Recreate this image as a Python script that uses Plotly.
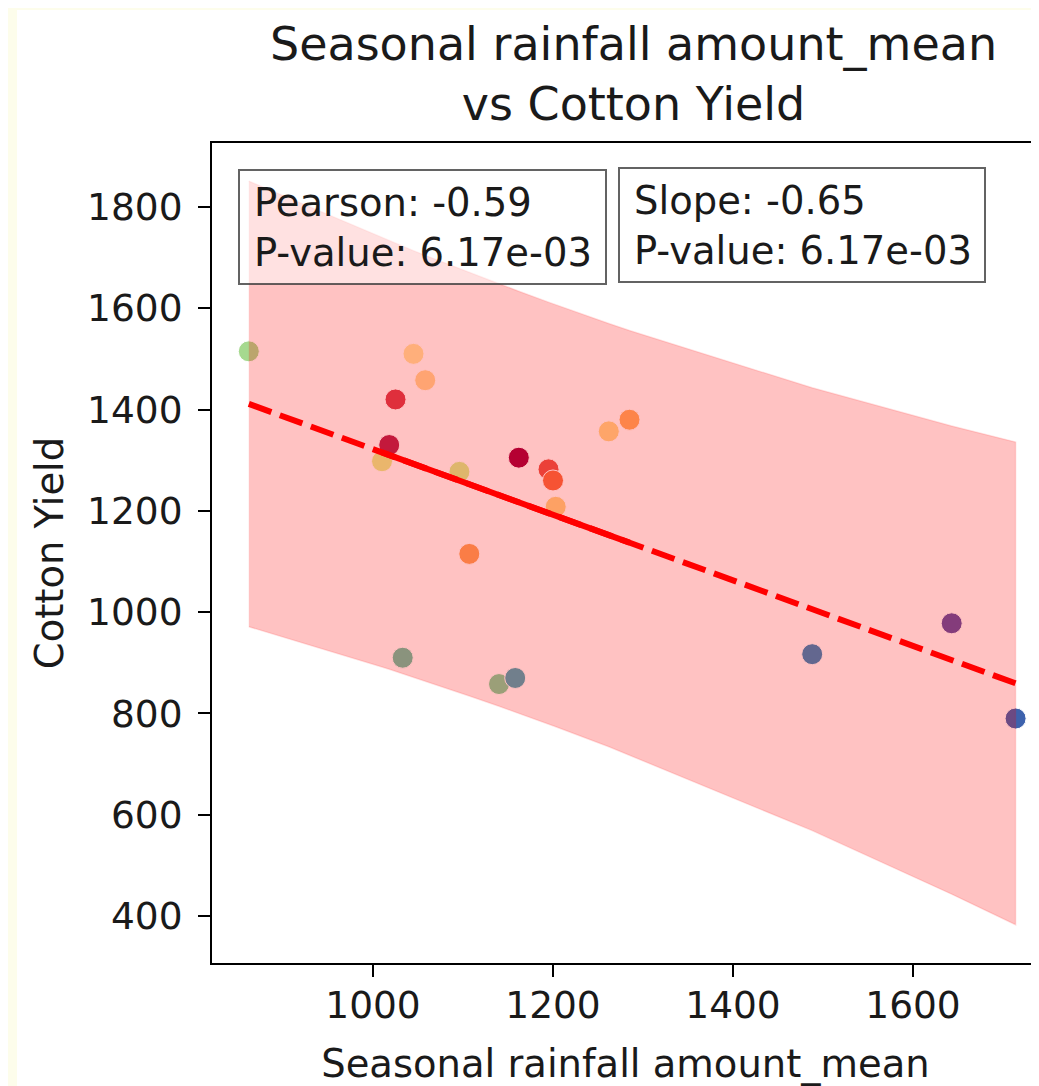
import numpy as np
import plotly.graph_objects as go

# ---- data ----
rainfall = [862, 1045, 1058, 1025, 1018, 1010, 1096, 1162, 1195, 1200,
            1203, 1262, 1285, 1107, 1033, 1140, 1158, 1488, 1643, 1714]
yield_ = [1515, 1510, 1458, 1420, 1330, 1298, 1277, 1305, 1282, 1260,
          1208, 1357, 1380, 1115, 910, 858, 870, 917, 978, 790]
point_colors = ['#a6d98f', '#ffe7a2', '#ffd896', '#d53e4f', '#b0214f',
                '#e4f08f', '#d4f08e', '#9e0142', '#e5554a', '#f46d43',
                '#fdd484', '#fed98a', '#fdae61', '#f9a55c', '#66c2a5',
                '#7cd29e', '#45a8b8', '#3288bd', '#5e4fa2', '#3d62ad']
pearson_text = "Pearson: -0.59<br>P-value: 6.17e-03"
slope_text = "Slope: -0.65<br>P-value: 6.17e-03"
x_ticks = [1000, 1200, 1400, 1600]
y_ticks = [400, 600, 800, 1000, 1200, 1400, 1600, 1800]
T_CRIT = 2.101  # t(0.975, df=18)

# ---- regression and prediction band ----
x = np.array(rainfall, dtype=float)
y = np.array(yield_, dtype=float)
n = len(x)
slope, intercept = np.polyfit(x, y, 1)
resid = y - (slope * x + intercept)
s = np.sqrt(np.sum(resid ** 2) / (n - 2))
xs = np.unique(np.sort(x))
yhat = slope * xs + intercept
half = T_CRIT * s * np.sqrt(1 + 1 / n + (xs - x.mean()) ** 2 / np.sum((x - x.mean()) ** 2))
upper = yhat + half
lower = yhat - half

FONT = "DejaVu Sans"
TXT = "#1a1a1a"

# page geometry (the html body adds an 8px margin)
OFF = 8
W, H = 1039 - OFF, 1086 - OFF
PL, PT, PR, PB = 212, 143, 1039, 963          # plot area in page pixels
pw, ph = PR - PL, PB - PT


def fx(px):
    return (px - PL) / pw


def fy(py):
    return (PB - py) / ph


fig = go.Figure()

# points (drawn under the band)
fig.add_trace(go.Scatter(
    x=rainfall, y=yield_, mode="markers",
    marker=dict(size=21, color=point_colors, line=dict(color="white", width=1)),
    showlegend=False))

# prediction band
fig.add_trace(go.Scatter(
    x=np.concatenate([xs, xs[::-1]]), y=np.concatenate([upper, lower[::-1]]),
    mode="lines", fill="toself", fillcolor="rgba(255,0,0,0.24)",
    line=dict(color="rgba(255,0,0,0.12)", width=1.5), showlegend=False))

# regression line: dashed over the full range, solid where the data is dense
fig.add_trace(go.Scatter(
    x=xs, y=yhat, mode="lines",
    line=dict(color="#ff0000", width=6, dash="24px,9px"), showlegend=False))
sx = xs[1:-3]
fig.add_trace(go.Scatter(
    x=sx, y=slope * sx + intercept, mode="lines",
    line=dict(color="#ff0000", width=6), showlegend=False))

# white figure area on a pale yellow page
fig.add_shape(type="rect", xref="paper", yref="paper",
              x0=fx(17), x1=fx(1060), y0=fy(1100), y1=fy(10),
              fillcolor="white", line=dict(width=0), layer="below")

# statistic boxes
for (bx0, by0, bx1, by1) in [(239, 170, 606, 284), (619, 168, 985, 282)]:
    fig.add_shape(type="rect", xref="paper", yref="paper",
                  x0=fx(bx0), x1=fx(bx1), y0=fy(by1), y1=fy(by0),
                  fillcolor="rgba(255,255,255,0.5)",
                  line=dict(color="rgba(60,60,60,0.8)", width=2), layer="above")

ann = dict(xref="paper", yref="paper", xanchor="left", yanchor="middle",
           showarrow=False, align="left",
           font=dict(family=FONT, size=38.5, color=TXT))
fig.add_annotation(text=pearson_text, x=fx(252), y=fy(227), **ann)
fig.add_annotation(text=slope_text, x=fx(632), y=fy(225), **ann)

fig.update_layout(
    width=W, height=H,
    margin=dict(l=PL - OFF, r=0, t=PT - OFF, b=H - (PB - OFF), pad=0),
    paper_bgcolor="#fdfdeb", plot_bgcolor="white",
    font=dict(family=FONT, size=37.5, color=TXT),
    title=dict(text="Seasonal rainfall amount_mean<br>vs Cotton Yield",
               x=fx(633.5), xref="paper", xanchor="center",
               y=1 - (60 - OFF) / H, yref="container", yanchor="middle",
               font=dict(family=FONT, size=46, color=TXT)),
    xaxis=dict(range=[821.1, 1740.0], tickvals=x_ticks, showgrid=False, zeroline=False,
               showline=True, linecolor="black", linewidth=2, mirror=True,
               ticks="outside", ticklen=12, tickwidth=2, tickcolor="black",
               ticklabelstandoff=-4,
               title=dict(text="Seasonal rainfall amount_mean", standoff=24,
                          font=dict(family=FONT, size=38.5))),
    yaxis=dict(range=[307.2, 1926.4], tickvals=y_ticks, showgrid=False, zeroline=False,
               showline=True, linecolor="black", linewidth=2, mirror=False,
               ticks="outside", ticklen=12, tickwidth=2, tickcolor="black",
               ticklabelstandoff=8,
               title=dict(text="Cotton Yield", standoff=12,
                          font=dict(family=FONT, size=38.5))),
)

fig.write_html("out.html")
